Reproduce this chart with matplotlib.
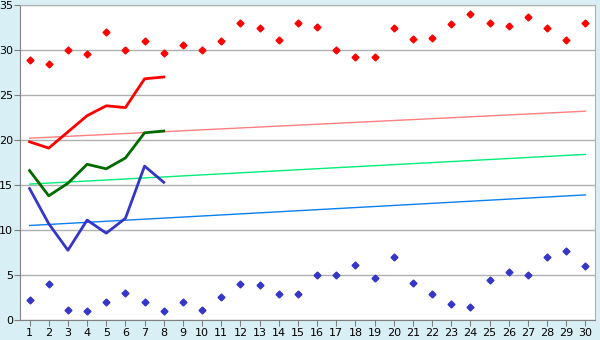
import numpy as np
import matplotlib
matplotlib.use("Agg")
import matplotlib.pyplot as plt

# === data ===
days = list(range(1, 31))

red_points = [28.85, 28.4, 30.0, 29.6, 32.0, 30.0, 31.0, 29.7, 30.6, 30.0,
              31.0, 33.0, 32.4, 31.1, 33.0, 32.6, 30.0, 29.2, 29.2, 32.5,
              31.2, 31.3, 32.9, 34.0, 33.0, 32.7, 33.7, 32.5, 31.1, 33.0]
blue_points = [2.2, 4.0, 1.1, 1.0, 2.0, 3.0, 2.0, 1.0, 2.0, 1.1,
               2.6, 4.0, 3.85, 2.85, 2.85, 5.0, 5.0, 6.1, 4.65, 7.0,
               4.1, 2.85, 1.75, 1.5, 4.5, 5.3, 5.0, 7.0, 7.65, 6.0]

line_days = [1, 2, 3, 4, 5, 6, 7, 8]
red_line = [19.8, 19.1, 20.9, 22.7, 23.8, 23.6, 26.8, 27.0]
green_line = [16.6, 13.8, 15.2, 17.3, 16.8, 18.0, 20.8, 21.0]
blue_line = [14.6, 10.7, 7.75, 11.1, 9.65, 11.3, 17.1, 15.3]

# trend lines (value at day 1 and day 30)
trend_days = [1, 30]
red_trend = [20.2, 23.2]
green_trend = [15.1, 18.4]
blue_trend = [10.5, 13.9]

# === plot ===
bg = '#d9eff6'
fig = plt.figure(figsize=(6, 3.4), dpi=100, facecolor=bg)
ax = fig.add_axes([20 / 600, 20 / 340, 575 / 600, 315 / 340])
ax.set_facecolor('white')

ax.set_ylim(0, 35)
ax.set_xlim(0.5, 30.5)
ax.set_yticks(np.arange(0, 36, 5))
ax.set_xticks(days)
ax.yaxis.grid(True, color='#b0b0b0', linewidth=1)
ax.set_axisbelow(True)

ax.plot(trend_days, red_trend, color='#ff8080', linewidth=1)
ax.plot(trend_days, green_trend, color='#00ee77', linewidth=1)
ax.plot(trend_days, blue_trend, color='#0a7ff0', linewidth=1)

ax.plot(line_days, red_line, color='#ff0000', linewidth=2)
ax.plot(line_days, green_line, color='#006a00', linewidth=2)
ax.plot(line_days, blue_line, color='#3535c8', linewidth=2)

ax.plot(days, red_points, linestyle='none', marker='D', markersize=3.5, color='#ff0000')
ax.plot(days, blue_points, linestyle='none', marker='D', markersize=3.5, color='#3535c8')

for side in ['top', 'right']:
    ax.spines[side].set_color('#b0b0b0')
for side in ['left', 'bottom']:
    ax.spines[side].set_color('#808080')

ax.tick_params(axis='both', labelsize=8, length=4, color='#808080', pad=2)
ax.tick_params(axis='y', pad=1)

fig.savefig('out.png', dpi=100, facecolor=bg)
